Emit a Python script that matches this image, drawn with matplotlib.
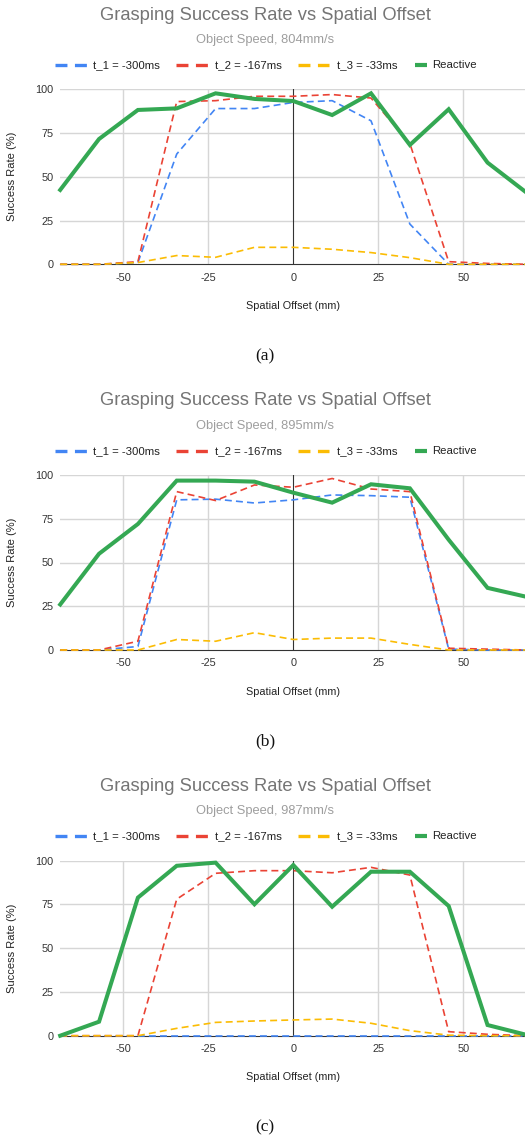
import numpy as np
import matplotlib
matplotlib.use("Agg")
import matplotlib.pyplot as plt
from matplotlib.lines import Line2D

plt.rcParams['font.family'] = ['Liberation Sans', 'DejaVu Sans']
plt.rcParams['lines.scale_dashes'] = False
plt.rcParams['axes.unicode_minus'] = False

# spatial offsets (mm)
offset = [-68.57, -57.14, -45.71, -34.29, -22.86, -11.43, 0.0,
          11.43, 22.86, 34.29, 45.71, 57.14, 68.57]

speeds = ["804mm/s", "895mm/s", "987mm/s"]
panel_tags = ["(a)", "(b)", "(c)"]
series_names = ["t_1 = -300ms", "t_2 = -167ms", "t_3 = -33ms", "Reactive"]

# (a) 804 mm/s
a_t1 = [0, 0, 1, 63, 89, 89, 92.5, 93.5, 82, 23, 0, 0, 0]
a_t2 = [0, 0, 1.5, 93, 93.5, 96, 96, 97, 95, 69, 1.5, 0.5, 0]
a_t3 = [0, 0, 1, 5, 4, 9.7, 9.7, 8.6, 6.7, 3.8, 0, 0, 0]
a_re = [42.5, 71.6, 88.2, 89.1, 97.7, 94.5, 93.3, 85.3, 97.7, 68.2, 88.6, 58.1, 41]

# (b) 895 mm/s
b_t1 = [0, 0, 2, 85.8, 86.2, 84, 85.8, 88.6, 88.2, 87.3, 0.5, 0, 0]
b_t2 = [0, 0, 5, 90.5, 85.4, 94.3, 93, 98, 92, 90.5, 1, 0.5, 0]
b_t3 = [0, 0, 0, 6, 5, 9.9, 6, 6.8, 6.8, 3.2, 0, 0, 0]
b_re = [26, 55, 72, 96.8, 96.8, 96.2, 89.9, 84.2, 94.7, 92.4, 63, 35.5, 30.4]

# (c) 987 mm/s
c_t1 = [0, 0, 0, 0, 0, 0, 0, 0, 0, 0, 0, 0, 0]
c_t2 = [0, 0, 0, 78, 92.8, 94.3, 94.3, 93.1, 96.2, 91.8, 2.3, 0.8, 0]
c_t3 = [0, 0, 0, 4.2, 7.6, 8.4, 9, 9.5, 7.1, 2.9, 0.3, 0, 0]
c_re = [0, 8, 78.9, 97.1, 98.9, 75.1, 97.5, 73.7, 93.7, 93.7, 74.1, 6.1, 0.5]

panels = [[a_t1, a_t2, a_t3, a_re],
          [b_t1, b_t2, b_t3, b_re],
          [c_t1, c_t2, c_t3, c_re]]

colors = ["#4285F4", "#EA4335", "#FBBC04", "#34A853"]
xticks = [-50, -25, 0, 25, 50]
yticks = [0, 25, 50, 75, 100]

W, H = 525, 1139
fig = plt.figure(figsize=(W / 100, H / 100), dpi=100)


def fx(x):
    return x / W


def fy(y):
    return 1 - y / H


step = 385.7
for i, data in enumerate(panels):
    oy = i * step
    ax = fig.add_axes([fx(60.2), fy(264.3 + oy), fx(526.4 - 60.2), 175 / H])
    ax.set_xlim(-68.57, 68.57)
    ax.set_ylim(0, 100)
    for s in ax.spines.values():
        s.set_visible(False)
    ax.set_xticks(xticks)
    ax.set_yticks(yticks)
    ax.tick_params(length=0, labelsize=7.8, labelcolor="#333333")
    ax.tick_params(axis='x', pad=6)
    ax.tick_params(axis='y', pad=5)
    for t in xticks:
        if t != 0:
            ax.axvline(t, color="#d6d6d6", lw=1.0, zorder=0)
    for t in yticks[1:]:
        ax.axhline(t, color="#d6d6d6", lw=1.0, zorder=0)
    ax.axvline(0, color="#333333", lw=0.8, zorder=1)
    ax.axhline(0, color="#333333", lw=0.8, zorder=1, clip_on=False)

    for k in range(3):
        ax.plot(offset, data[k], color=colors[k], lw=1.2, dashes=(5, 3),
                zorder=3 + k, clip_on=False)
    ax.plot(offset, data[3], color=colors[3], lw=2.9, zorder=7,
            solid_joinstyle='miter', clip_on=False)

    ax.set_ylabel("Success Rate (%)", fontsize=8.0, color="#222222")
    ax.yaxis.label.set_va('center')
    ax.yaxis.set_label_coords((12 - 60.2) / 466.2, 0.5)
    ax.set_xlabel("Spatial Offset (mm)", fontsize=7.8, color="#222222")
    ax.xaxis.label.set_va('center')
    ax.xaxis.set_label_coords(0.5, -(306 - 264.3) / 175)

    fig.text(fx(265), fy(15 + oy), "Grasping Success Rate vs Spatial Offset",
             ha='center', va='center', fontsize=13.2, color="#757575")
    fig.text(fx(265), fy(40 + oy), "Object Speed, " + speeds[i],
             ha='center', va='center', fontsize=9.3, color="#9e9e9e")

    # legend
    ly = fy(65 + oy)
    leg_x = [(55, 87, 93), (176, 208, 215), (298, 329, 337)]
    for k, (x0, x1, xt) in enumerate(leg_x):
        fig.add_artist(Line2D([fx(x0), fx(x1)], [ly, ly], color=colors[k],
                              lw=2.4, dashes=(8.6, 5.4), transform=fig.transFigure))
        fig.text(fx(xt), ly, series_names[k], ha='left', va='center',
                 fontsize=8.2, color="#222222")
    fig.add_artist(Line2D([fx(415), fx(427)], [ly, ly], color=colors[3],
                          lw=3.0, solid_capstyle='butt', transform=fig.transFigure))
    fig.text(fx(432), ly, series_names[3], ha='left', va='center',
             fontsize=8.2, color="#222222")

    fig.text(fx(265), fy(356 + oy), panel_tags[i], ha='center', va='center',
             fontsize=12.5, color="#111111", family=['Liberation Serif'])

fig.savefig("out.png", dpi=100)
